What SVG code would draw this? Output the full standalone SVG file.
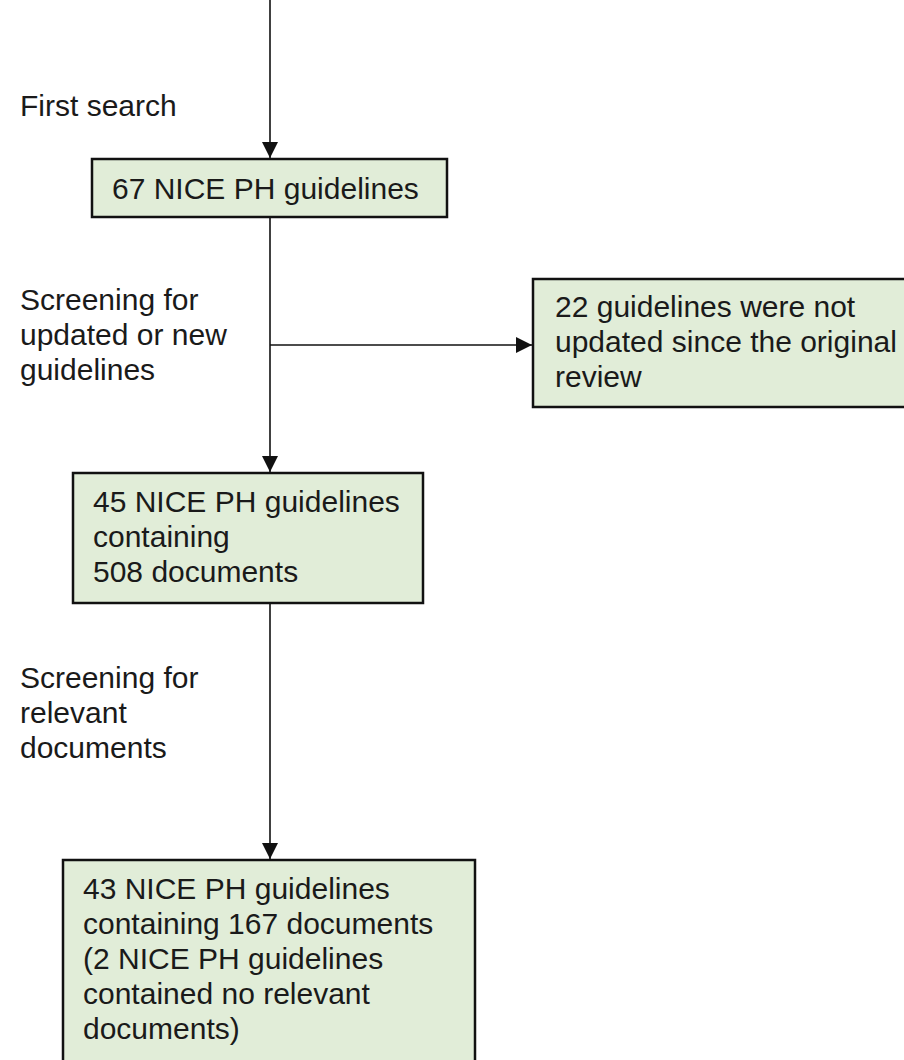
<svg xmlns="http://www.w3.org/2000/svg" width="904" height="1060" viewBox="0 0 904 1060">
<defs>
<style>
.box{fill:#e1edd8;stroke:#111;stroke-width:2.5}
.t{font-family:"Liberation Sans",Arial,sans-serif;font-size:30px;fill:#1a1a1a}
.ln{stroke:#111;stroke-width:1.6;fill:none}
</style>
<marker id="ah" viewBox="0 0 10 10" refX="10" refY="5" markerWidth="16" markerHeight="16" markerUnits="userSpaceOnUse" orient="auto">
<path d="M0,0 L10,5 L0,10 Z" fill="#111"/>
</marker>
</defs>
<rect width="904" height="1060" fill="#fff"/>
<g id="connectors">
<line class="ln" x1="270" y1="0" x2="270" y2="158" marker-end="url(#ah)"/>
<line class="ln" x1="270" y1="218" x2="270" y2="472" marker-end="url(#ah)"/>
<line class="ln" x1="270" y1="345" x2="532" y2="345" marker-end="url(#ah)"/>
<line class="ln" x1="270" y1="604" x2="270" y2="859" marker-end="url(#ah)"/>
</g>
<g id="labels">
<text class="t" x="20" y="116">First search</text>
<text class="t" x="20" y="310">Screening for</text>
<text class="t" x="20" y="345">updated or new</text>
<text class="t" x="20" y="380">guidelines</text>
<text class="t" x="20" y="688">Screening for</text>
<text class="t" x="20" y="723">relevant</text>
<text class="t" x="20" y="758">documents</text>
</g>
<g id="n1">
<rect class="box" x="92" y="159" width="355" height="58"/>
<text class="t" x="112" y="199">67 NICE PH guidelines</text>
</g>
<g id="n2">
<rect class="box" x="533" y="279" width="380" height="128"/>
<text class="t" x="555" y="317">22 guidelines were not</text>
<text class="t" x="555" y="352">updated since the original</text>
<text class="t" x="555" y="387">review</text>
</g>
<g id="n3">
<rect class="box" x="73" y="473" width="350" height="130"/>
<text class="t" x="93" y="512">45 NICE PH guidelines</text>
<text class="t" x="93" y="547">containing</text>
<text class="t" x="93" y="582">508 documents</text>
</g>
<g id="n4">
<rect class="box" x="63" y="860" width="412" height="210"/>
<text class="t" x="83" y="899">43 NICE PH guidelines</text>
<text class="t" x="83" y="934">containing 167 documents</text>
<text class="t" x="83" y="969">(2 NICE PH guidelines</text>
<text class="t" x="83" y="1004">contained no relevant</text>
<text class="t" x="83" y="1039">documents)</text>
</g>
</svg>
